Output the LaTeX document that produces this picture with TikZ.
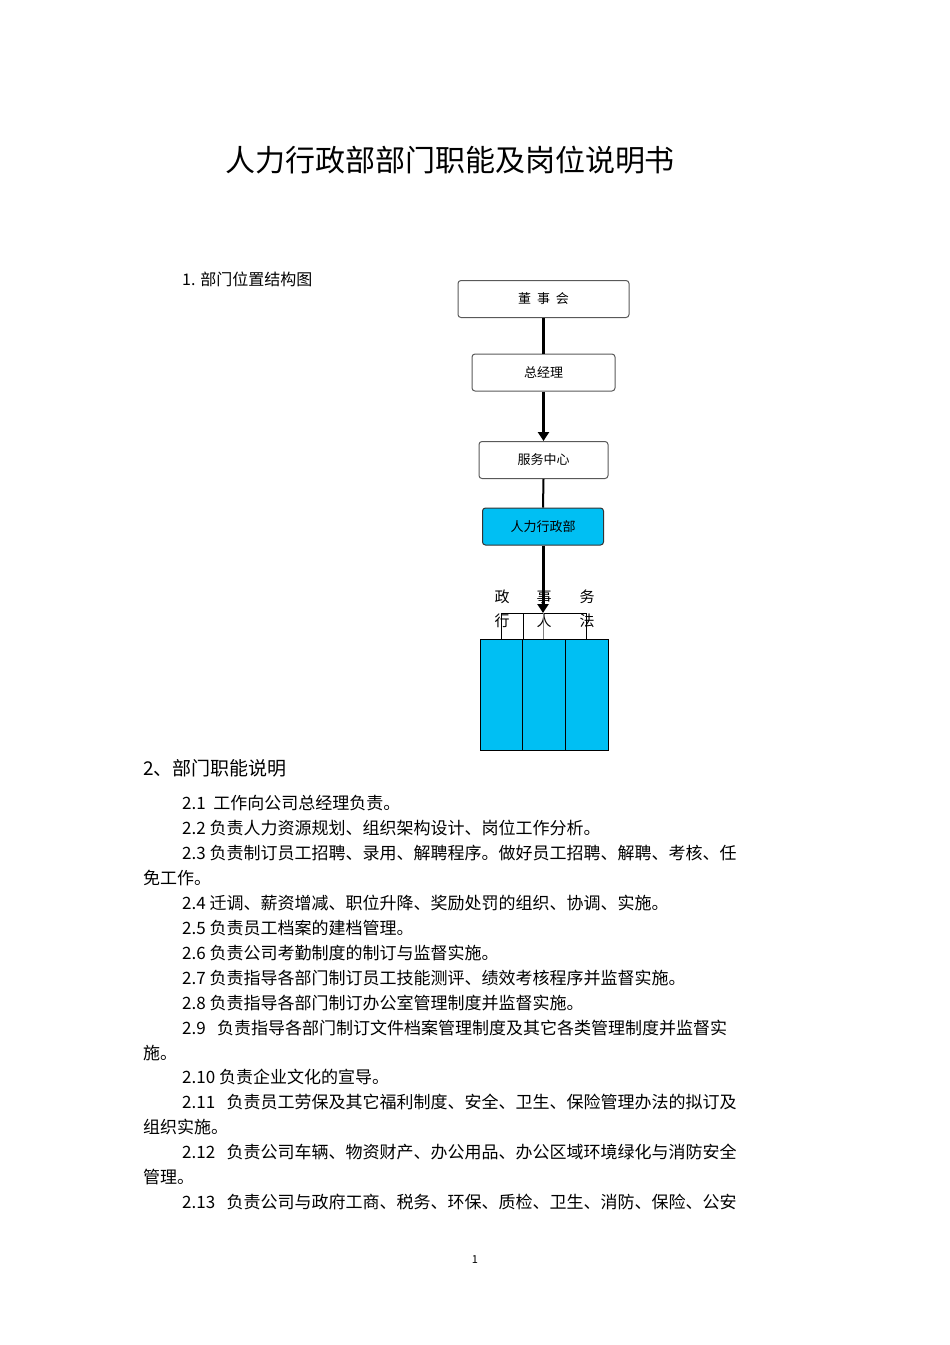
\documentclass[tikz,border=0pt]{standalone}
\usepackage{fontspec}
\setmainfont{Noto Sans CJK SC}
\usetikzlibrary{arrows.meta}
\definecolor{cy}{HTML}{00BFF3}
\tikzset{
 box/.style={draw=black!65,line width=1pt,rounded corners=3pt,minimum height=37pt,inner sep=0pt,font=\fontsize{13}{15}\selectfont},
 sub/.style={draw=black,line width=1pt,fill=cy,minimum width=43pt,minimum height=111pt,inner sep=0pt},
 thick/.style={line width=3pt},
 arr/.style={line width=3pt,-{Triangle[length=9pt,width=11pt]}},
 body/.style={anchor=base west,inner sep=0pt,font=\fontsize{17}{20}\selectfont}
}
\begin{document}
\begin{tikzpicture}[x=1pt,y=-1pt]
\useasboundingbox (0,0) rectangle (950,1345);
\node[font=\fontsize{30}{34}\selectfont] (title) at (450,160) {人力行政部部门职能及岗位说明书};
\node[anchor=base west,inner sep=0pt,font=\fontsize{16}{18}\selectfont] (s1) at (182,285) {1. 部门位置结构图};
\node[box,minimum width=171pt] (dsh) at (543.5,299) {董\ \ 事\ \ 会};
\node[box,minimum width=143pt] (zjl) at (543.5,372.5) {总经理};
\node[box,minimum width=129pt] (fw) at (543.5,460) {服务中心};
\node[box,minimum width=121pt,fill=cy,draw=black!80] (rl) at (543,526.5) {人力行政部};
\draw[thick] (dsh.south) -- (zjl.north);
\draw[arr] (zjl.south) -- (fw.north);
\draw[line width=2pt] (fw.south) -- (rl.north);
\coordinate (br) at (543,613);
\draw[arr] (rl.south) -- (br);
\node[sub,anchor=north west] (xz) at (480,639) {};
\node[sub,anchor=north west] (rs) at (522,639) {};
\node[sub,anchor=north west] (fw2) at (565,639) {};
\foreach \n/\a/\b in {xz/行/政,rs/人/事,fw2/法/务}{
 \node[font=\fontsize{15}{17}\selectfont,inner sep=0pt] at ([yshift=18pt]\n.north) {\a};
 \node[font=\fontsize{15}{17}\selectfont,inner sep=0pt] at ([yshift=42pt]\n.north) {\b};
}
\draw[line width=1pt] (xz.north|-br) ++(21,0) coordinate (l) -- (l|-xz.north);
\draw[line width=1pt] (501,613) -- (586,613);
\draw[line width=1pt] (501,613) -- (501,639);
\draw[line width=1pt] (586,613) -- (586,639);
\draw[line width=1pt,black!50] (543,613) -- (543,639);
\node[anchor=base west,inner sep=0pt,font=\fontsize{19}{22}\selectfont] (s2) at (143,775) {2、部门职能说明};
\foreach \x/\y/\t in {
182/809/{2.1\ \ 工作向公司总经理负责。},
182/834/{2.2\ 负责人力资源规划、组织架构设计、岗位工作分析。},
182/859/{2.3\ 负责制订员工招聘、录用、解聘程序。做好员工招聘、解聘、考核、任},
143/884/{免工作。},
182/909/{2.4\ 迁调、薪资增减、职位升降、奖励处罚的组织、协调、实施。},
182/934/{2.5\ 负责员工档案的建档管理。},
182/959/{2.6\ 负责公司考勤制度的制订与监督实施。},
182/984/{2.7\ 负责指导各部门制订员工技能测评、绩效考核程序并监督实施。},
182/1009/{2.8\ 负责指导各部门制订办公室管理制度并监督实施。},
182/1034/{2.9\ \ \ 负责指导各部门制订文件档案管理制度及其它各类管理制度并监督实},
143/1059/{施。},
182/1083/{2.10\ 负责企业文化的宣导。},
182/1108/{2.11\ \ \ 负责员工劳保及其它福利制度、安全、卫生、保险管理办法的拟订及},
143/1133/{组织实施。},
182/1158/{2.12\ \ \ 负责公司车辆、物资财产、办公用品、办公区域环境绿化与消防安全},
143/1183/{管理。},
182/1208/{2.13\ \ \ 负责公司与政府工商、税务、环保、质检、卫生、消防、保险、公安}}
 \node[body] at (\x,\y) {\t};
\node[font=\fontsize{11}{13}\selectfont] (pg) at (475,1260) {1};
\end{tikzpicture}
\end{document}
